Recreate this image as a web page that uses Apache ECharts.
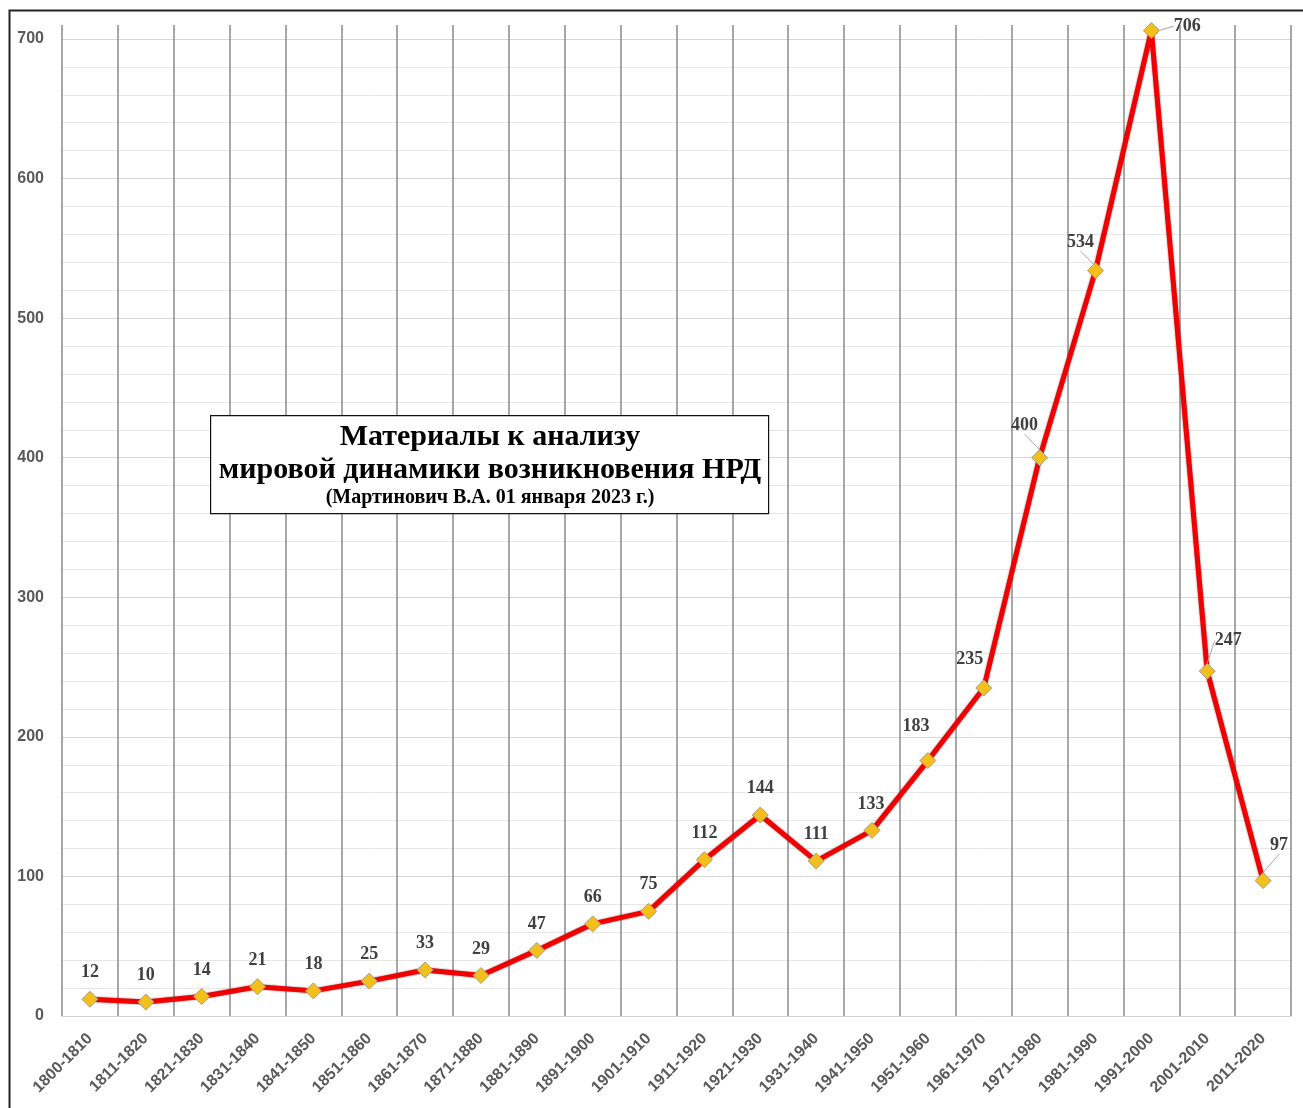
<!DOCTYPE html>
<html><head><meta charset="utf-8">
<script src="https://cdn.jsdelivr.net/npm/echarts@6/dist/echarts.min.js"></script>
<style>html,body{margin:0;padding:0;background:#fff}#c{width:1303px;height:1108px}</style>
</head><body><div id="c"></div>
<script>
const categories = ['1800-1810','1811-1820','1821-1830','1831-1840','1841-1850','1851-1860','1861-1870','1871-1880','1881-1890','1891-1900','1901-1910','1911-1920','1921-1930','1931-1940','1941-1950','1951-1960','1961-1970','1971-1980','1981-1990','1991-2000','2001-2010','2011-2020'];
const values = [12,10,14,21,18,25,33,29,47,66,75,112,144,111,133,183,235,400,534,706,247,97];
const yTicks = [0,100,200,300,400,500,600,700];
const titleLines = ['Материалы к анализу','мировой динамики возникновения НРД','(Мартинович В.А. 01 января 2023 г.)'];

// label nudges (dx, dy) in pixels, per data index
const labelShift = {14:[-1,0],15:[-12,-8],16:[-14,-2],17:[-15,-6],18:[-15,-2],19:[36,22],20:[21,-4],21:[16,-9]};
const guided = [17,18,19,20,21];

const yMax = 710;
const splitColors = [];
for (let v = 0; v <= 700; v += 20) splitColors.push(v % 100 === 0 ? '#d6d6d6' : '#e6e6e6');
splitColors.push('rgba(0,0,0,0)');

const chart = echarts.init(document.getElementById('c'));
chart.setOption({
  backgroundColor: '#fff',
  animation: false,
  grid: {left: 62, right: 12, top: 25, bottom: 92},
  xAxis: {
    type: 'category', data: categories, boundaryGap: true,
    axisLine: {show: true, lineStyle: {color: '#d0d0d0', width: 1}},
    axisTick: {show: false},
    splitLine: {show: true, interval: 0, lineStyle: {color: '#8a8a8a', width: 1.5}},
    axisLabel: {interval: 0, rotate: 45, margin: 20, color: '#595959', fontFamily: 'Liberation Sans', fontWeight: 'bold', fontSize: 16}
  },
  yAxis: {
    type: 'value', min: 0, max: yMax, interval: 20,
    axisLine: {show: false}, axisTick: {show: false},
    axisLabel: {
      margin: 18, color: '#595959', fontFamily: 'Liberation Sans', fontWeight: 'bold', fontSize: 16,
      formatter: v => yTicks.indexOf(v) >= 0 ? String(v) : ''
    },
    splitLine: {show: true, lineStyle: {color: splitColors, width: 1}}
  },
  series: [{
    type: 'line',
    data: values.map((v, i) => ({
      value: v,
      labelLine: {show: guided.indexOf(i) >= 0, lineStyle: {color: '#a6a6a6', width: 1}}
    })),
    clip: false,
    symbol: 'diamond', symbolSize: 16,
    itemStyle: {color: '#F4BF1A', borderColor: '#9e9e8a', borderWidth: 1},
    lineStyle: {color: '#F00000', width: 5, shadowColor: 'rgba(80,0,0,0.6)', shadowBlur: 2},
    label: {
      show: true, position: 'top', distance: 9,
      color: '#404040', fontFamily: 'Liberation Serif', fontWeight: 'bold', fontSize: 18
    },
    labelLayout: p => {
      const s = labelShift[p.dataIndex];
      return s ? {dx: s[0], dy: s[1]} : {};
    },
    z: 5
  }],
  graphic: [
    {type: 'rect', left: 7, top: 8, shape: {width: 1296, height: 1112}, style: {fill: 'none', stroke: '#222', lineWidth: 2}, silent: true, z: 100},
    {type: 'rect', left: 210, top: 415, shape: {width: 558, height: 98}, style: {fill: '#fff', stroke: '#111', lineWidth: 1.2}, z: 50},
    {type: 'text', x: 490, y: 437, style: {text: titleLines[0], fill: '#000', font: 'bold 30px "Liberation Serif"', textAlign: 'center', textVerticalAlign: 'middle'}, z: 51},
    {type: 'text', x: 490, y: 470, style: {text: titleLines[1], fill: '#000', font: 'bold 30px "Liberation Serif"', textAlign: 'center', textVerticalAlign: 'middle'}, z: 51},
    {type: 'text', x: 490, y: 498, style: {text: titleLines[2], fill: '#000', font: 'bold 20px "Liberation Serif"', textAlign: 'center', textVerticalAlign: 'middle'}, z: 51}
  ]
});
</script></body></html>
